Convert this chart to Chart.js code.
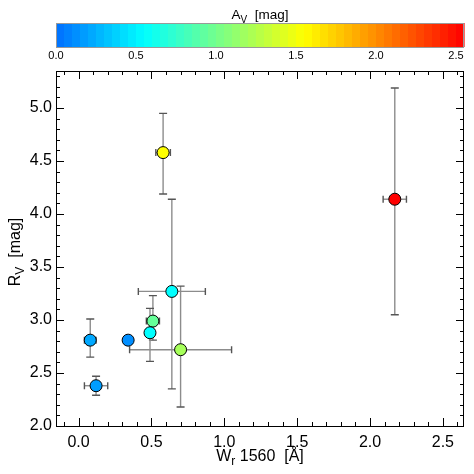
<!DOCTYPE html>
<html>
<head>
<meta charset="utf-8">
<script src="https://cdn.jsdelivr.net/npm/chart.js"></script>
<style>
  body { margin: 0; background: #fff; }
  canvas { display: block; }
</style>
</head>
<body>
<canvas id="myChart" width="474" height="474"></canvas>
<script>
// W_r 1560 [Å] and its error
const wr      = [0.58, 2.17, 0.64, 0.70, 0.51, 0.49, 0.08, 0.34, 0.12];
const wrErr   = [0.05, 0.08, 0.23, 0.35, 0.045, 0.03, 0.04, 0.0, 0.08];
// R_V with upper / lower error
const rv      = [4.58, 4.14, 3.27, 2.72, 2.99, 2.88, 2.81, 2.81, 2.38];
const rvErrUp = [0.37, 1.05, 0.87, 0.60, 0.24, 0.23, 0.20, 0.0, 0.09];
const rvErrDn = [0.39, 1.09, 0.92, 0.54, 0.18, 0.27, 0.16, 0.0, 0.09];
// A_V, used for the colour of each point
const av      = [1.55, 2.55, 0.55, 1.20, 0.95, 0.55, 0.22, 0.12, 0.18];

// colour bar stops: [A_V, r, g, b]
const cmapStops = [
  [0.00, 0, 110, 255],
  [0.55, 0, 255, 255],
  [1.05, 128, 255, 128],
  [1.55, 255, 255, 0],
  [2.55, 255, 0, 0]
];
const avMax = 2.55, avBand = 0.05;

// titles as [text, isSubscript]
const xTitle  = [['W', 0], ['r', 1], [' 1560  [Å]', 0]];
const yTitle  = [['R', 0], ['V', 1], ['  [mag]', 0]];
const cbTitle = [['A', 0], ['V', 1], ['  [mag]', 0]];

const FONT = '"Liberation Sans", Arial, Helvetica, sans-serif';
Chart.defaults.font.family = FONT;
Chart.defaults.color = '#000';

function avColor(v) {
  for (let i = 1; i < cmapStops.length; i++) {
    const a = cmapStops[i - 1], b = cmapStops[i];
    if (v <= b[0] || i === cmapStops.length - 1) {
      const t = Math.max(0, Math.min(1, (v - a[0]) / (b[0] - a[0])));
      const c = [1, 2, 3].map(k => Math.round(a[k] + t * (b[k] - a[k])));
      return 'rgb(' + c.join(',') + ')';
    }
  }
}

// text with subscripts, centred on (x, y) baseline
function drawSubText(ctx, parts, size, x, y) {
  const fonts = parts.map(p => (p[1] ? Math.round(size * 0.72) : size) + 'px ' + FONT);
  const widths = parts.map((p, i) => { ctx.font = fonts[i]; return ctx.measureText(p[0]).width; });
  let cx = x - widths.reduce((s, w) => s + w, 0) / 2;
  ctx.textAlign = 'left';
  ctx.textBaseline = 'alphabetic';
  parts.forEach((p, i) => {
    ctx.font = fonts[i];
    ctx.fillText(p[0], cx, y + (p[1] ? size * 0.28 : 0));
    cx += widths[i];
  });
}

const decor = {
  id: 'decor',
  beforeDatasetsDraw(chart) {
    const ctx = chart.ctx, xs = chart.scales.x, ys = chart.scales.y;
    ctx.save();
    ctx.lineWidth = 1.4;
    for (let i = 0; i < wr.length; i++) {
      const px = xs.getPixelForValue(wr[i]), py = ys.getPixelForValue(rv[i]);
      if (rvErrUp[i] > 0 || rvErrDn[i] > 0) {
        const y1 = ys.getPixelForValue(rv[i] + rvErrUp[i]);
        const y2 = ys.getPixelForValue(rv[i] - rvErrDn[i]);
        ctx.strokeStyle = '#8c8c8c';
        ctx.beginPath(); ctx.moveTo(px, y1); ctx.lineTo(px, y2); ctx.stroke();
        ctx.strokeStyle = '#555';
        ctx.beginPath();
        ctx.moveTo(px - 4, y1); ctx.lineTo(px + 4, y1);
        ctx.moveTo(px - 4, y2); ctx.lineTo(px + 4, y2);
        ctx.stroke();
      }
      if (wrErr[i] > 0) {
        const x1 = xs.getPixelForValue(wr[i] - wrErr[i]);
        const x2 = xs.getPixelForValue(wr[i] + wrErr[i]);
        ctx.strokeStyle = '#8c8c8c';
        ctx.beginPath(); ctx.moveTo(x1, py); ctx.lineTo(x2, py); ctx.stroke();
        ctx.strokeStyle = '#555';
        ctx.beginPath();
        ctx.moveTo(x1, py - 3.5); ctx.lineTo(x1, py + 3.5);
        ctx.moveTo(x2, py - 3.5); ctx.lineTo(x2, py + 3.5);
        ctx.stroke();
      }
    }
    ctx.restore();
  },
  afterDraw(chart) {
    const ctx = chart.ctx, a = chart.chartArea;
    const xs = chart.scales.x, ys = chart.scales.y, cb = chart.scales.cb;
    ctx.save();

    // frame and inward ticks on all four sides
    ctx.strokeStyle = '#000';
    ctx.lineWidth = 1;
    ctx.strokeRect(Math.round(a.left) + 0.5, Math.round(a.top) + 0.5,
                   Math.round(a.right - a.left) - 1, Math.round(a.bottom - a.top));
    ctx.beginPath();
    for (let k = -1; k <= 26; k++) {
      const v = k / 10;
      if (v < xs.min || v > xs.max) continue;
      const px = Math.round(xs.getPixelForValue(v)) + 0.5;
      const len = k % 5 === 0 ? 8 : 4;
      ctx.moveTo(px, a.bottom); ctx.lineTo(px, a.bottom - len);
      ctx.moveTo(px, a.top); ctx.lineTo(px, a.top + len);
    }
    for (let k = 20; k <= 53; k++) {
      const v = k / 10;
      const py = Math.round(ys.getPixelForValue(v)) + 0.5;
      const len = k % 5 === 0 ? 8 : 4;
      ctx.moveTo(a.left, py); ctx.lineTo(a.left + len, py);
      ctx.moveTo(a.right, py); ctx.lineTo(a.right - len, py);
    }
    ctx.stroke();

    // colour bar
    const top = 23, h = 24;
    for (let v0 = 0; v0 < avMax - 1e-9; v0 += avBand) {
      const x0 = cb.getPixelForValue(v0), x1 = cb.getPixelForValue(Math.min(v0 + avBand, avMax));
      ctx.fillStyle = avColor(v0 + avBand / 2);
      ctx.fillRect(x0, top, x1 - x0 + 0.6, h);
    }
    ctx.strokeStyle = '#999';
    ctx.strokeRect(Math.round(cb.left) + 0.5, top + 0.5, Math.round(cb.right - cb.left) - 1, h);

    // titles
    ctx.fillStyle = '#000';
    drawSubText(ctx, cbTitle, 13.5, (cb.left + cb.right) / 2, 19);
    drawSubText(ctx, xTitle, 16, (a.left + a.right) / 2, 461);
    ctx.translate(20, 252);
    ctx.rotate(-Math.PI / 2);
    drawSubText(ctx, yTitle, 16, 0, 0);
    ctx.restore();
  }
};

const tickFmt = v => v.toFixed(1);

new Chart(document.getElementById('myChart'), {
  type: 'scatter',
  data: {
    datasets: [{
      data: wr.map((x, i) => ({ x: x, y: rv[i] })),
      pointBackgroundColor: av.map(avColor),
      pointBorderColor: '#000',
      pointBorderWidth: 1,
      pointRadius: 6,
      pointHoverRadius: 6
    }]
  },
  options: {
    responsive: false,
    animation: false,
    events: [],
    layout: { padding: { right: 10 } },
    plugins: { legend: { display: false }, tooltip: { enabled: false } },
    scales: {
      x: {
        type: 'linear', position: 'bottom', min: -0.155, max: 2.645,
        afterFit: s => { s.height = 48; },
        grid: { display: false, drawTicks: false }, border: { display: false },
        ticks: { stepSize: 0.5, includeBounds: false, autoSkip: false, maxRotation: 0,
                 padding: 7, font: { size: 16 }, callback: tickFmt }
      },
      y: {
        type: 'linear', position: 'left', min: 2.0, max: 5.35,
        afterFit: s => { s.width = 56; },
        grid: { display: false, drawTicks: false }, border: { display: false },
        ticks: { stepSize: 0.5, includeBounds: false, autoSkip: false,
                 padding: 4, font: { size: 16 }, callback: tickFmt }
      },
      cb: {
        type: 'linear', axis: 'x', position: 'top', min: 0, max: avMax,
        afterFit: s => { s.height = 71; },
        grid: { display: false, drawTicks: false }, border: { display: false },
        ticks: { stepSize: 0.5, includeBounds: false, autoSkip: false, maxRotation: 0,
                 padding: 8, font: { size: 11 }, callback: tickFmt }
      }
    }
  },
  plugins: [decor]
});
</script>
</body>
</html>
